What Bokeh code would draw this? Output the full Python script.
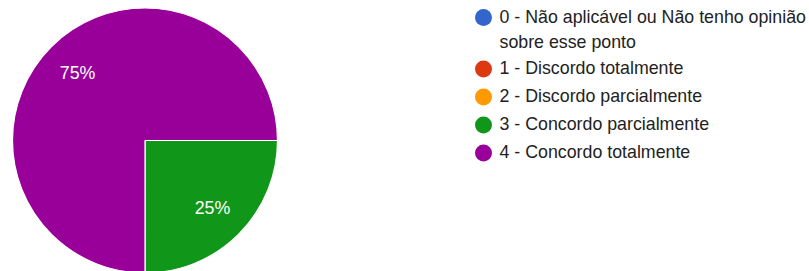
import math
from bokeh.plotting import figure
from bokeh.models import Range1d, ColumnDataSource
from bokeh.core.properties import value
from bokeh.embed import file_html
from bokeh.resources import INLINE

# ---- data ----
categories = [
    "0 - Não aplicável ou Não tenho opinião\nsobre esse ponto",
    "1 - Discordo totalmente",
    "2 - Discordo parcialmente",
    "3 - Concordo parcialmente",
    "4 - Concordo totalmente",
]
percentages = [0, 0, 0, 25, 75]
colors = ["#3366cc", "#dc3912", "#ff9900", "#109618", "#990099"]

# ---- layout ----
W, H = 809, 271
FONT = "Liberation Sans"
FS = "17.8px"
p = figure(width=W, height=H, output_backend="svg", toolbar_location=None,
           x_range=Range1d(0, W), y_range=Range1d(0, H), min_border=0)
p.axis.visible = False
p.grid.visible = False
p.outline_line_color = None
p.background_fill_color = "white"
p.border_fill_color = "white"

def fy(screen_y):
    return H - screen_y

cx, cy, r = 144.5, fy(140), 132.5

# pie: clockwise from east
total = sum(percentages)
start = 0.0
ws = dict(start=[], end=[], color=[], lx=[], ly=[], lab=[])
for pct, col in zip(percentages, colors):
    if pct <= 0:
        continue
    sweep = 2 * math.pi * pct / total
    a0 = start - sweep
    a1 = start
    ws["start"].append(a0)
    ws["end"].append(a1)
    ws["color"].append(col)
    mid = (a0 + a1) / 2
    ws["lx"].append(cx + 0.72 * r * math.cos(mid))
    ws["ly"].append(cy + 0.72 * r * math.sin(mid))
    ws["lab"].append(f"{pct}%")
    start = a0

src = ColumnDataSource(ws)
p.wedge(x=cx, y=cy, radius=r, start_angle="start", end_angle="end",
        fill_color="color", line_color="white", line_width=1.2, source=src)
p.text(x="lx", y="ly", text="lab", source=src, text_color="white",
       text_font=value(FONT), text_font_size=FS,
       text_align="center", text_baseline="middle")

# legend (manual)
lx_c, lx_t = 483, 499
row_y = []
cur = 17
for i, c in enumerate(categories):
    row_y.append(cur)
    nlines = c.count("\n") + 1
    cur += 28 + (nlines - 1) * 23.5
p.scatter(x=[lx_c] * len(categories), y=[fy(v) for v in row_y], size=17,
          marker="circle", fill_color=colors, line_color=None)
tx, ty, tt = [], [], []
for c, yv in zip(categories, row_y):
    for j, line in enumerate(c.split("\n")):
        tx.append(lx_t)
        ty.append(fy(yv - 1 + j * 25.5))
        tt.append(line)
p.text(x=tx, y=ty, text=tt, text_color="#222222", text_font=value(FONT),
       text_font_size=FS, text_align="left", text_baseline="middle")

open("out.html", "w").write(file_html(p, INLINE))
